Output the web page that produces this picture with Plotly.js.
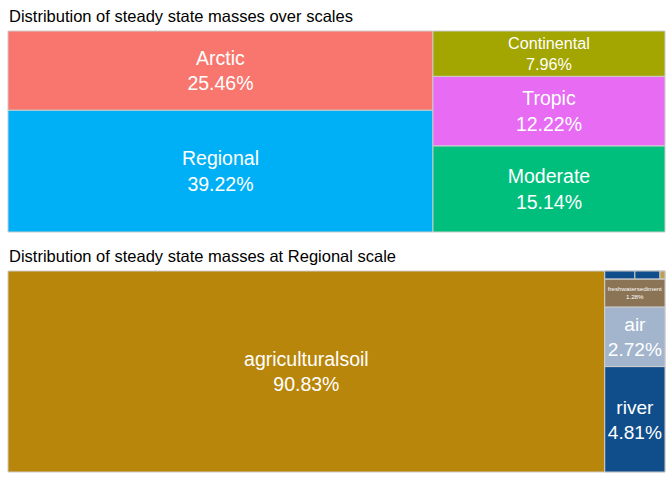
<!DOCTYPE html>
<html>
<head>
<meta charset="utf-8">
<script src="https://cdn.plot.ly/plotly-3.0.1.min.js"></script>
<style>html,body{margin:0;padding:0;background:#fff;}#chart{width:672px;height:480px;}</style>
</head>
<body>
<div id="chart"></div>
<script>
// Top treemap: distribution over scales (%)
const scaleLabels = ["Regional", "Arctic", "Moderate", "Tropic", "Continental"];
const scaleValues = [39.22, 25.46, 15.14, 12.22, 7.96];
const scaleColors = ["#00B0F6", "#F8766D", "#00BF7D", "#E76BF3", "#A3A500"];

// Bottom treemap: compartments at Regional scale (%)
const compLabels = ["agriculturalsoil", "river", "air", "freshwatersediment", "sea", "lake", "othersoil"];
const compValues = [90.83, 4.81, 2.72, 1.28, 0.18, 0.15, 0.03];
const compColors = ["#B8860B", "#104E8B", "#A2B5CD", "#8B7355", "#104E8B", "#104E8B", "#BFA055"];
// layout grouping of the compartments (structure only, no value of their own)
const compGroup = ["", "rest", "rest", "rest", "minor", "minor", "minor"];

const FONT = "Liberation Sans, Arial, sans-serif";
const LABEL_SIZE = 19.5;
const LEAF_TEMPLATE = "%{label}<br>%{value:.2f}%";
const MIN_LABELLED = 0.5; // tiles smaller than this (%) carry no label

const traceTop = {
  type: "treemap",
  labels: scaleLabels,
  parents: scaleLabels.map(() => ""),
  values: scaleValues,
  branchvalues: "remainder",
  sort: true,
  tiling: {packing: "squarify", squarifyratio: 3, flip: "y", pad: 0},
  marker: {colors: scaleColors, line: {color: "#cccccc", width: 1}, pad: {t: 0, l: 0, r: 0, b: 0}},
  textposition: "middle center",
  texttemplate: LEAF_TEMPLATE,
  textfont: {family: FONT, size: LABEL_SIZE, color: "#ffffff"},
  pathbar: {visible: false},
  hoverinfo: "skip",
  domain: {x: [0, 1], y: [240/441, 1]}
};

// bottom: build nodes (groups + leaves)
const bLabels = ["rest", "minor"].concat(compLabels);
const bParents = ["", "rest"].concat(compGroup);
const bValues = [0, 0].concat(compValues);
const bColors = ["#ffffff", "#ffffff"].concat(compColors);
const bTemplates = ["", ""].concat(compValues.map(v => v >= MIN_LABELLED ? LEAF_TEMPLATE : ""));

const traceBottom = {
  type: "treemap",
  labels: bLabels,
  parents: bParents,
  values: bValues,
  branchvalues: "remainder",
  sort: true,
  tiling: {packing: "slice-dice", flip: "y", pad: 0},
  marker: {colors: bColors, line: {color: "#cccccc", width: 1}, pad: {t: 0, l: 0, r: 0, b: 0}},
  textposition: "middle center",
  texttemplate: bTemplates,
  textfont: {family: FONT, size: LABEL_SIZE, color: "#ffffff"},
  pathbar: {visible: false},
  hoverinfo: "skip",
  domain: {x: [0, 1], y: [0, 201/441]}
};

const layout = {
  width: 672, height: 480,
  margin: {l: 8, r: 7, t: 31, b: 8},
  paper_bgcolor: "#ffffff",
  font: {family: FONT, color: "#000000"},
  showlegend: false,
  annotations: [
    {text: "Distribution of steady state masses over scales", xref: "paper", yref: "paper",
     x: 0, y: 1, yshift: 4, xanchor: "left", yanchor: "bottom", showarrow: false,
     xshift: -1, font: {size: 16.5, color: "#000000"}},
    {text: "Distribution of steady state masses at Regional scale", xref: "paper", yref: "paper",
     x: 0, y: 201/441, yshift: 4, xanchor: "left", yanchor: "bottom", showarrow: false,
     xshift: -1, font: {size: 16.5, color: "#000000"}}
  ]
};

Plotly.newPlot("chart", [traceTop, traceBottom], layout, {displayModeBar: false, staticPlot: true});
</script>
</body>
</html>
